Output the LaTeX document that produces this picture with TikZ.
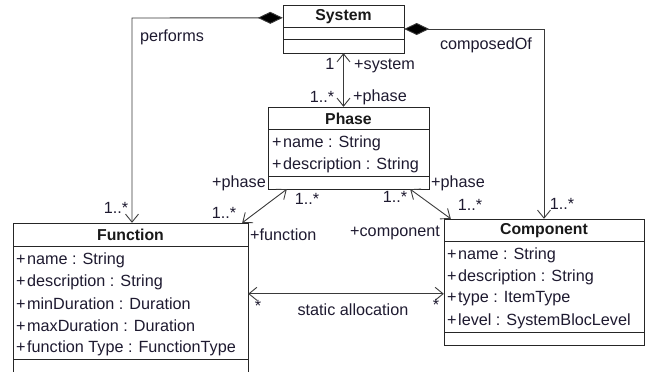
\documentclass[tikz,border=0pt]{standalone}
\usepackage{fontspec}
\setmainfont{Liberation Sans}
\usetikzlibrary{arrows.meta}
\definecolor{txt}{HTML}{1E1A30}
\definecolor{ln}{HTML}{3A3A3A}
\tikzset{
  cls/.style={draw=black!85, line width=1pt, fill=white},
  sep/.style={draw=black!85, line width=1pt},
  lbl/.style={inner sep=0pt, text=txt, font=\fontsize{16.2}{19}\selectfont},
  ttl/.style={inner sep=0pt, text=black!90, font=\fontsize{15.8}{19}\selectfont\bfseries},
  attr/.style={lbl, anchor=west},
  conn/.style={draw=ln, line width=0.9pt},
  both/.style={{Straight Barb[length=8pt,width=13pt,line width=0.9pt]}-{Straight Barb[length=8pt,width=13pt,line width=0.9pt]}},
  comp/.style={{Diamond[length=25pt,width=12pt,fill=black]}-{Straight Barb[length=8pt,width=13pt,line width=0.9pt]}}
}
\begin{document}
\begin{tikzpicture}[x=1pt,y=-1pt]
\useasboundingbox (0,0) rectangle (646,372);
% classes
\draw[cls] (283,5) rectangle (404,53);
\node[draw=none, minimum width=121pt, minimum height=48pt, inner sep=0pt] (sys) at (343.5,29) {};
\draw[sep] (283,27) -- (404,27);
\draw[sep] (283,39) -- (404,39);
\node[ttl] (systitle) at (343.5,16.5) {System};

\draw[cls] (268,107) rectangle (429,189);
\node[minimum width=161pt, minimum height=82pt, inner sep=0pt] (phase) at (348.5,148) {};
\draw[sep] (268,129) -- (429,129);
\draw[sep] (268,176) -- (429,176);
\node[ttl] (phtitle) at (348.5,118.5) {Phase};
\node[attr] (ph1) at (272,143) {+\kern1.5pt name : String};
\node[attr] (ph2) at (272,165) {+\kern1.5pt description : String};

\draw[cls] (13,223) rectangle (248,380);
\node[minimum width=235pt, minimum height=157pt, inner sep=0pt] (func) at (130.5,301.5) {};
\draw[sep] (13,246) -- (248,246);
\draw[sep] (13,359) -- (248,359);
\node[ttl] (ftitle) at (130.5,235) {Function};
\node[attr] (f1) at (16,260) {+\kern1.5pt name : String};
\node[attr] (f2) at (16,282) {+\kern1.5pt description : String};
\node[attr] (f3) at (16,304) {+\kern1.5pt minDuration : Duration};
\node[attr] (f4) at (16,326) {+\kern1.5pt maxDuration : Duration};
\node[attr] (f5) at (16,348) {+\kern1.5pt function Type : FunctionType};

\draw[cls] (444,219) rectangle (644,345);
\node[minimum width=200pt, minimum height=126pt, inner sep=0pt] (compo) at (544,282) {};
\draw[sep] (444,241) -- (644,241);
\draw[sep] (444,332) -- (644,332);
\node[ttl] (ctitle) at (544,230.5) {Component};
\node[attr] (c1) at (447,255) {+\kern1.5pt name : String};
\node[attr] (c2) at (447,277) {+\kern1.5pt description : String};
\node[attr] (c3) at (447,299) {+\kern1.5pt type : ItemType};
\node[attr] (c4) at (447,321) {+\kern1.5pt level : SystemBlocLevel};

% connectors
\coordinate (pf) at (132,18);
\coordinate (co) at (544,29);
\draw[conn, comp] ([yshift=-13pt]sys.north west) -- (pf) -- (pf |- func.north);
\draw[conn, comp] (sys.east) -- (co) -- (co |- compo.north);
\draw[conn, both] (sys.south) -- (sys.south |- phase.north);
\draw[conn, both] ([xshift=19pt]phase.south west) -- ([xshift=-6pt]func.north east);
\draw[conn, both] ([xshift=-19pt]phase.south east) -- ([xshift=7pt]compo.north west);
\draw[conn, both] ([yshift=-71pt]func.north east) -- ([yshift=-75pt]compo.north west);

% labels
\node[lbl] (lperf) at (172,37) {performs};
\node[lbl] (lcomp) at (486,45) {composedOf};
\node[lbl] (m1) at (330,64) {1};
\node[lbl, anchor=west] (rsys) at (354,66) {+system};
\node[lbl] (m2) at (322,97) {1..*};
\node[lbl, anchor=west] (rph1) at (353,97) {+phase};
\node[lbl, anchor=east] (rph2) at (266,183) {+phase};
\node[lbl] (m3) at (224,213) {1..*};
\node[lbl] (m4) at (307,199) {1..*};
\node[lbl, anchor=west] (rfun) at (250,235) {+function};
\node[lbl] (m5) at (395,197) {1..*};
\node[lbl, anchor=west] (rph3) at (431,183) {+phase};
\node[lbl] (m6) at (470,205) {1..*};
\node[lbl, anchor=east] (rcmp) at (440,233) {+component};
\node[lbl] (m7) at (116,208) {1..*};
\node[lbl] (m8) at (562,204) {1..*};
\node[lbl] (s1) at (258,306) {*};
\node[lbl] (s2) at (436,305) {*};
\node[lbl] (lsa) at (353,310) {static allocation};
\end{tikzpicture}
\end{document}
